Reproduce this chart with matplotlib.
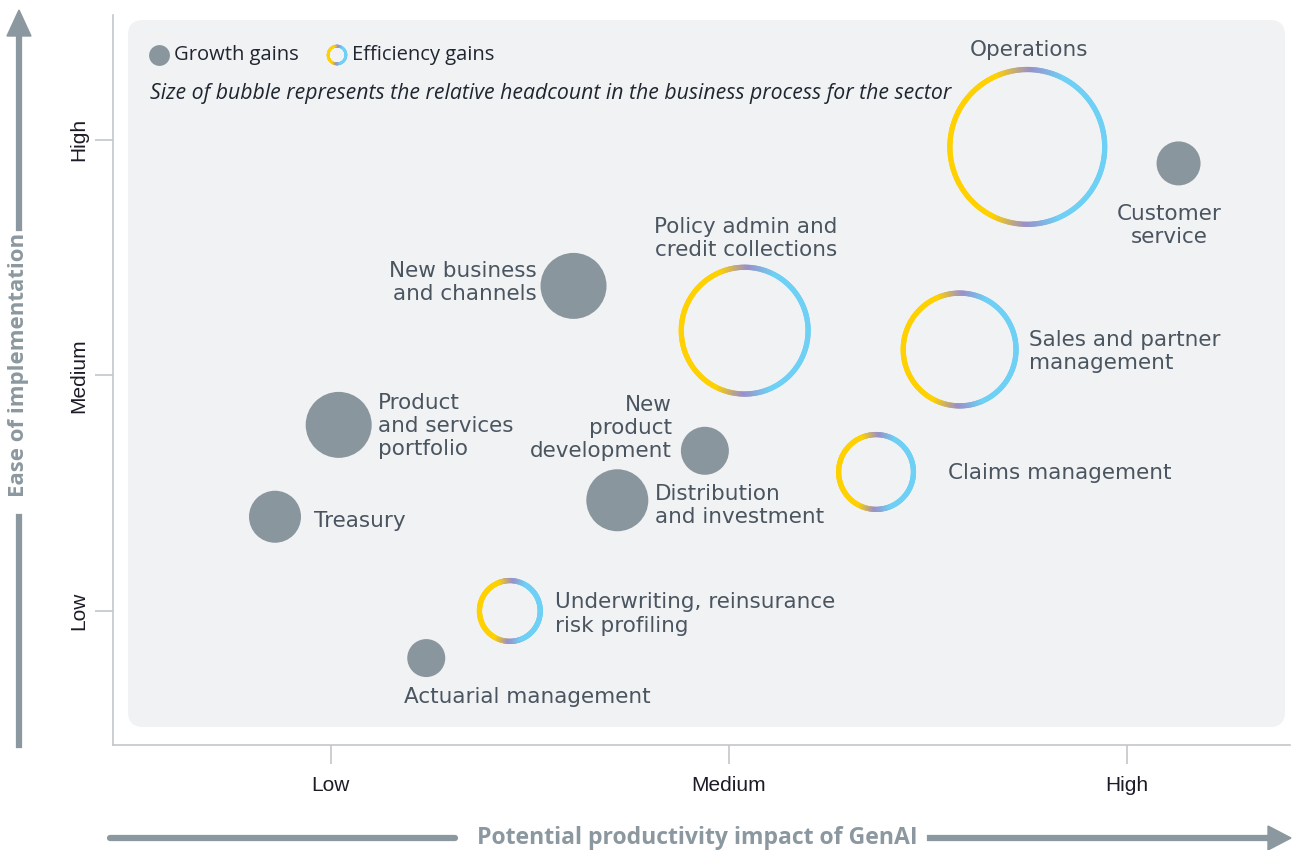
import numpy as np
import matplotlib.pyplot as plt
import matplotlib.transforms as mtransforms
from matplotlib.collections import LineCollection
from matplotlib.colors import LinearSegmentedColormap
from matplotlib.patches import FancyBboxPatch, Polygon
from matplotlib.lines import Line2D

# ===============================
# DATA
# ===============================
processes = ["Operations", "Customer service", "New business and channels",
             "Policy admin and credit collections", "Sales and partner management",
             "Product and services portfolio", "New product development",
             "Claims management", "Distribution and investment", "Treasury",
             "Underwriting, reinsurance risk profiling", "Actuarial management"]
labels = ["Operations", "Customer\nservice", "New business\nand channels",
          "Policy admin and\ncredit collections", "Sales and partner\nmanagement",
          "Product\nand services\nportfolio", "New\nproduct\ndevelopment",
          "Claims management", "Distribution\nand investment", "Treasury",
          "Underwriting, reinsurance\nrisk profiling", "Actuarial management"]
impact = [2.75, 3.13, 1.61, 2.04, 2.58, 1.02, 1.94, 2.37, 1.72, 0.86, 1.45, 1.24]
ease = [2.97, 2.90, 2.38, 2.19, 2.11, 1.79, 1.68, 1.59, 1.47, 1.40, 1.00, 0.80]
headcount = [80, 22, 33, 66, 59, 33, 24, 40, 31, 26, 33, 19]
gain = ["eff", "growth", "growth", "eff", "eff", "growth", "growth",
        "eff", "growth", "growth", "eff", "growth"]

levels = [1, 2, 3]
level_names = ["Low", "Medium", "High"]

# label placement (offset in pixels from bubble centre, alignment)
label_pos = [(2, 97, "center"), (-9, -62, "center"), (-37, 3, "right"),
             (1, 92, "center"), (69, -2, "left"), (39, -1, "left"),
             (-33, 23, "right"), (72, -1, "left"), (38, -5, "left"),
             (39, -4, "left"), (45, -3, "left"), (101, -39, "center")]

GREY = "#8a969e"
TEXT = "#4a5560"
W, H = 1292, 850

plt.rcParams["font.family"] = ["Open Sans", "DejaVu Sans"]

fig = plt.figure(figsize=(W / 100, H / 100), dpi=100)
ax = fig.add_axes([113 / W, 1 - 745 / H, (1290 - 113) / W, (745 - 15) / H])
ax.patch.set_alpha(0)

# rounded background panel (in inches so corners stay round)
bg = FancyBboxPatch((1.28, 1.23), 11.57, 7.07, boxstyle="round,pad=0,rounding_size=0.15",
                    transform=fig.dpi_scale_trans, facecolor="#f1f2f4",
                    edgecolor="none", zorder=-5)
fig.patches.append(bg)

for s in ["top", "right"]:
    ax.spines[s].set_visible(False)
for s in ["left", "bottom"]:
    ax.spines[s].set_color("#c3c7cb")
    ax.spines[s].set_linewidth(1.2)

ax.set_xticks(levels)
ax.set_xticklabels(level_names, fontsize=15, family=["Liberation Sans"], color="#1c1c28")
ax.set_yticks(levels)
ax.set_yticklabels(level_names, fontsize=15, family=["Liberation Sans"], color="#1c1c28",
                   rotation=90, va="center")
ax.tick_params(axis="x", length=14, width=1.2, color="#c3c7cb", pad=8)
ax.tick_params(axis="y", length=13, width=1.2, color="#c3c7cb", pad=5)

# ring colours: yellow on left, purple at top/bottom, blue on right
ring_cmap = LinearSegmentedColormap.from_list(
    "ring", [(0, "#6dd0f4"), (0.36, "#6dd0f4"), (0.5, "#9a8fc9"),
             (0.64, "#ffd100"), (1, "#ffd100")])


def draw_ring(x, y, r_px, lw=3.8, target=ax, trans=None):
    th = np.linspace(0, 2 * np.pi, 181)
    r_in = (r_px - 2.6) / 100
    px = r_in * np.cos(th)
    py = r_in * np.sin(th)
    pts = np.column_stack([px, py]).reshape(-1, 1, 2)
    segs = np.concatenate([pts[:-1], pts[1:]], axis=1)
    mid = (th[:-1] + th[1:]) / 2
    # 0 = right side, 1 = left side
    val = np.abs(np.angle(np.exp(1j * mid))) / np.pi
    if trans is None:
        trans = fig.dpi_scale_trans + mtransforms.ScaledTranslation(x, y, ax.transData)
    lc = LineCollection(segs, colors=ring_cmap(val), linewidths=lw,
                        transform=trans, capstyle="round", zorder=3)
    lc.set_clip_on(False)
    if target is ax:
        ax.add_collection(lc, autolim=False)
    else:
        fig.add_artist(lc)


for i in range(len(processes)):
    if gain[i] == "growth":
        ax.scatter(impact[i], ease[i], s=(2 * headcount[i] * 0.72) ** 2,
                   color=GREY, edgecolor="none", zorder=3)
    else:
        draw_ring(impact[i], ease[i], headcount[i])
    dx, dy, ha = label_pos[i]
    ax.annotate(labels[i], (impact[i], ease[i]), xytext=(dx, dy),
                textcoords="offset pixels", ha=ha, va="center",
                fontsize=15.5, family=["DejaVu Sans"], color=TEXT,
                linespacing=1.2, zorder=4)
ax.set_xlim(0.453, 3.41)
ax.set_ylim(0.431, 3.53)


def fpx(x, y):
    return x / W, 1 - y / H


# legend
fig.add_artist(Line2D([159 / W], [1 - 55 / H], marker="o", markersize=15, color=GREY,
                      markeredgewidth=0, transform=fig.transFigure))
draw_ring(0, 0, 11.5, lw=2.0, target=fig,
          trans=fig.dpi_scale_trans + mtransforms.ScaledTranslation(337 / W, 1 - 55 / H, fig.transFigure))
fig.text(*fpx(174, 55), "Growth gains", fontsize=14.5, color="#1f2630", va="center")
fig.text(*fpx(352, 55), "Efficiency gains", fontsize=14.5, color="#1f2630", va="center")
fig.text(*fpx(150, 93), "Size of bubble represents the relative headcount in the business process for the sector",
         fontsize=15.3, style="italic", color="#1f2630", va="center")

# axis arrows
AR = "#8c989f"
fig.add_artist(Line2D([19 / W, 19 / W], [1 - 745 / H, 1 - 517 / H], color=AR, lw=4.5,
                      transform=fig.transFigure))
fig.add_artist(Line2D([19 / W, 19 / W], [1 - 228 / H, 1 - 34 / H], color=AR, lw=4.5,
                      transform=fig.transFigure))
fig.add_artist(Polygon([fpx(19, 10), fpx(7, 36), fpx(31, 36)], closed=True, color=AR,
                       transform=fig.transFigure))
fig.text(*fpx(19, 365), "Ease of implementation", rotation=90, fontsize=16,
         fontweight="bold", color=AR, ha="center", va="center")

fig.add_artist(Line2D([110 / W, 455 / W], [1 - 838 / H] * 2, color=AR, lw=4.5,
                      solid_capstyle="round", transform=fig.transFigure))
fig.add_artist(Line2D([930 / W, 1270 / W], [1 - 838 / H] * 2, color=AR, lw=4.5,
                      transform=fig.transFigure))
fig.add_artist(Polygon([fpx(1291, 838), fpx(1268, 826), fpx(1268, 850)], closed=True,
                       color=AR, transform=fig.transFigure))
fig.text(*fpx(697, 838), "Potential productivity impact of GenAI", fontsize=16.6,
         fontweight="bold", color=AR, ha="center", va="center")

fig.savefig("out.png", dpi=100)
